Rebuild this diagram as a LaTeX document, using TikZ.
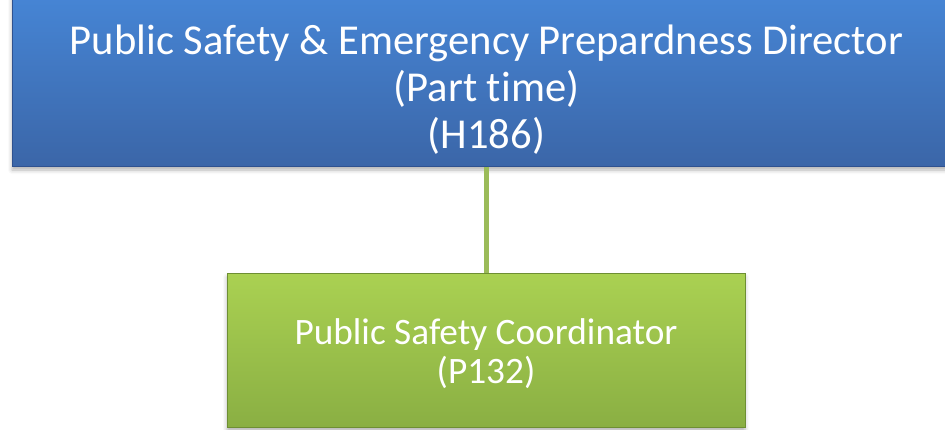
\documentclass[tikz,border=0pt]{standalone}
\usepackage{fontspec}
\setmainfont{Carlito}[Ligatures=NoCommon]
\usetikzlibrary{shadows.blur}
\definecolor{bluetop}{HTML}{4788D9}
\definecolor{bluebot}{HTML}{3B66A8}
\definecolor{blueedge}{HTML}{2F5290}
\definecolor{greentop}{HTML}{AAD152}
\definecolor{greenbot}{HTML}{8AAF43}
\definecolor{greenedge}{HTML}{6E8F33}
\definecolor{linkgreen}{HTML}{9BBB59}
\tikzset{
  box/.style={rectangle, inner sep=0pt, line width=1pt,
    blur shadow={shadow xshift=0pt, shadow yshift=-4pt, shadow blur radius=4pt, shadow opacity=30}},
  bluebox/.style={box, draw=blueedge, top color=bluetop, bottom color=bluebot,
    minimum width=950pt, minimum height=186pt},
  greenbox/.style={box, draw=greenedge, top color=greentop, bottom color=greenbot,
    minimum width=518pt, minimum height=154pt},
  label/.style={text=white, align=center, inner sep=0pt},
  link/.style={draw=linkgreen, line width=5pt}
}
\begin{document}
\begin{tikzpicture}[x=1pt, y=-1pt]
  \useasboundingbox (0,0) rectangle (945,429);
  \clip (0,0) rectangle (945,429);
  \node[bluebox] (dir) at (487,73) {};
  \node[greenbox] (coord) at (486,350) {};
  \draw[link] (dir.south -| 486.5,0) -- (coord.north -| 486.5,0);
  \node[label, font=\fontsize{42.6}{47}\selectfont] (dirtext) at (486.5,89.5)
    {Public Safety \& Emergency Prepardness Director\\(Part time)\\(H186)};
  \node[label, font=\fontsize{37.3}{39}\selectfont] (coordtext) at (486,353.5)
    {Public Safety Coordinator\\(P132)};
\end{tikzpicture}
\end{document}
